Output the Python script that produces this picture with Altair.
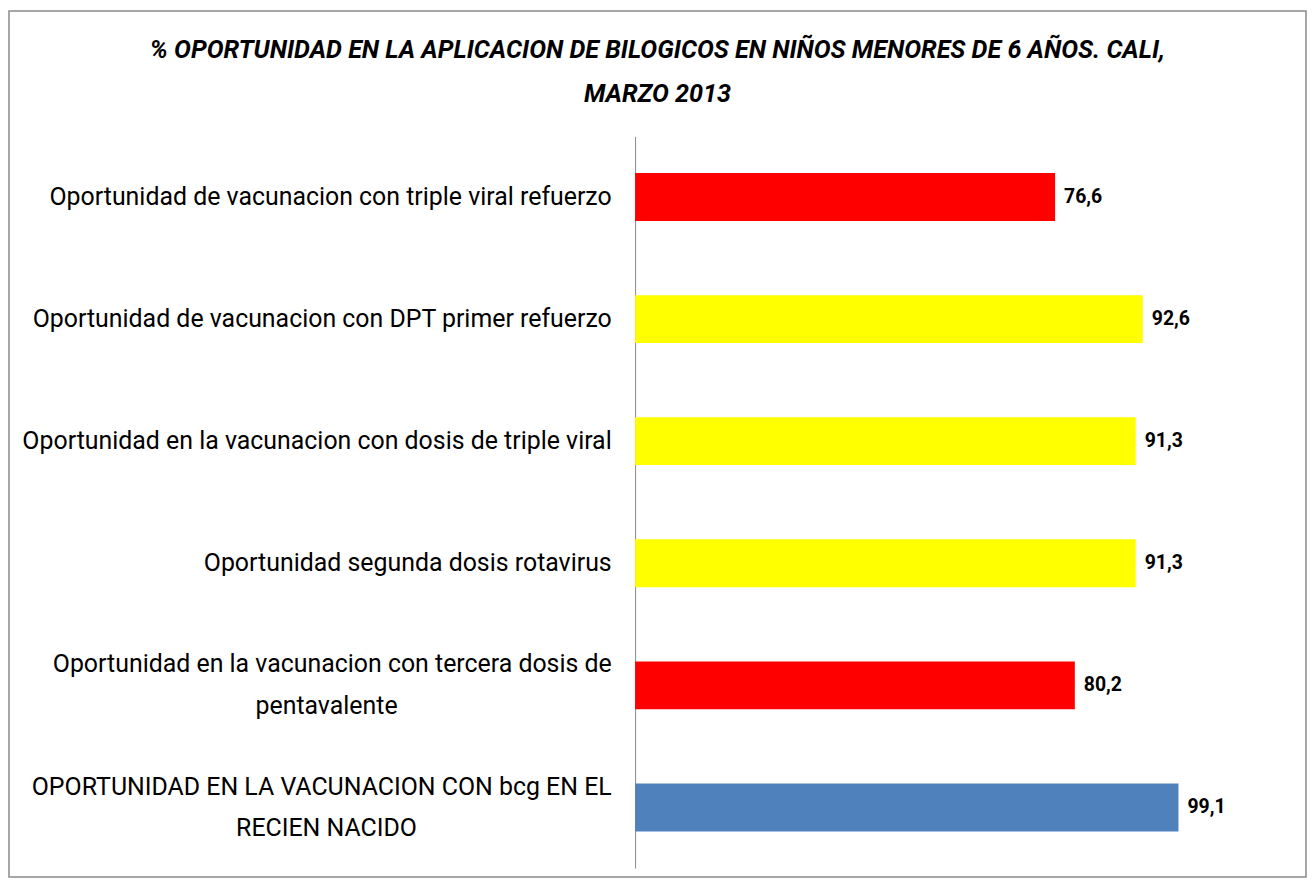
import altair as alt
import pandas as pd

categories = [
    "Oportunidad de vacunacion con triple viral refuerzo",
    "Oportunidad de vacunacion con DPT primer refuerzo",
    "Oportunidad en la vacunacion con dosis de triple viral",
    "Oportunidad segunda dosis rotavirus",
    "Oportunidad en la vacunacion con tercera dosis de|pentavalente",
    "OPORTUNIDAD EN LA VACUNACION CON bcg EN EL|RECIEN NACIDO",
]
values = [76.6, 92.6, 91.3, 91.3, 80.2, 99.1]
levels = ["bajo", "medio", "medio", "medio", "bajo", "alto"]
level_names = ["bajo", "medio", "alto"]
level_colors = ["#FF0000", "#FFFF00", "#4F81BD"]

title_lines = [
    "% OPORTUNIDAD EN LA APLICACION DE BILOGICOS  EN NIÑOS MENORES DE 6 AÑOS. CALI,",
    "MARZO 2013",
]

df = pd.DataFrame({"categoria": categories, "valor": values, "nivel": levels})
frame_df = pd.DataFrame({"k": [0]})

FONT = "Roboto, sans-serif"
W = 661
H = 735
LINE_H = 42

y_scale = alt.Scale(paddingInner=0.608, paddingOuter=0.3)

y_enc = alt.Y(
    "categoria:N",
    sort=None,
    title=None,
    scale=y_scale,
    axis=alt.Axis(
        domainColor="#888888",
        domainWidth=1,
        ticks=False,
        labelPadding=24,
        labelFont=FONT,
        labelFontSize=25,
        labelColor="#000000",
        labelLimit=800,
        minExtent=620,
        maxExtent=620,
        labelExpr="split(datum.label, '|')[0]",
        labelOffset={
            "condition": {"test": "indexof(datum.label, '|') >= 0", "value": -LINE_H / 2},
            "value": 0,
        },
    ),
)
x_enc = alt.X("valor:Q", scale=alt.Scale(domain=[0, 120], nice=False, zero=True), axis=None)

base = alt.Chart(df)

bars = base.mark_bar().encode(
    x=x_enc,
    y=y_enc,
    color=alt.Color("nivel:N", scale=alt.Scale(domain=level_names, range=level_colors), legend=None),
)

values_text = base.transform_calculate(
    etiqueta="replace(format(datum.valor, '.1f'), '.', ',')"
).mark_text(
    align="left", baseline="middle", dx=9, font=FONT, fontSize=19.5, fontWeight="bold", color="#000000"
).encode(x=x_enc, y=y_enc, text="etiqueta:N")

# second line of the two-line category labels, centred under the first line
second_lines = base.transform_calculate(
    linea2="indexof(datum.categoria, '|') >= 0 ? split(datum.categoria, '|')[1] : ''"
).mark_text(
    align="center", baseline="middle", dy=LINE_H / 2, font=FONT, fontSize=25, color="#000000"
).encode(
    x=alt.value(-310),
    y=y_enc,
    text="linea2:N",
)

frame = alt.Chart(frame_df).mark_rect(
    fillOpacity=0, stroke="#8a8a8a", strokeWidth=1.5
).encode(
    x=alt.value(-629), x2=alt.value(W + 13), y=alt.value(-126), y2=alt.value(H + 9)
)

chart = alt.layer(frame, bars, values_text, second_lines).properties(
    width=W,
    height=H,
    padding={"left": 0, "top": 0, "right": 0, "bottom": 0},
    background="white",
    title=alt.TitleParams(
        text=title_lines,
        font=FONT,
        fontSize=25.3,
        fontWeight="bold",
        fontStyle="italic",
        lineHeight=44,
        anchor="middle",
        frame="bounds",
        offset=-97,
        color="#000000",
    ),
).configure_view(stroke=None)

chart.save("out.html", embed_options={"renderer": "svg", "actions": False})
